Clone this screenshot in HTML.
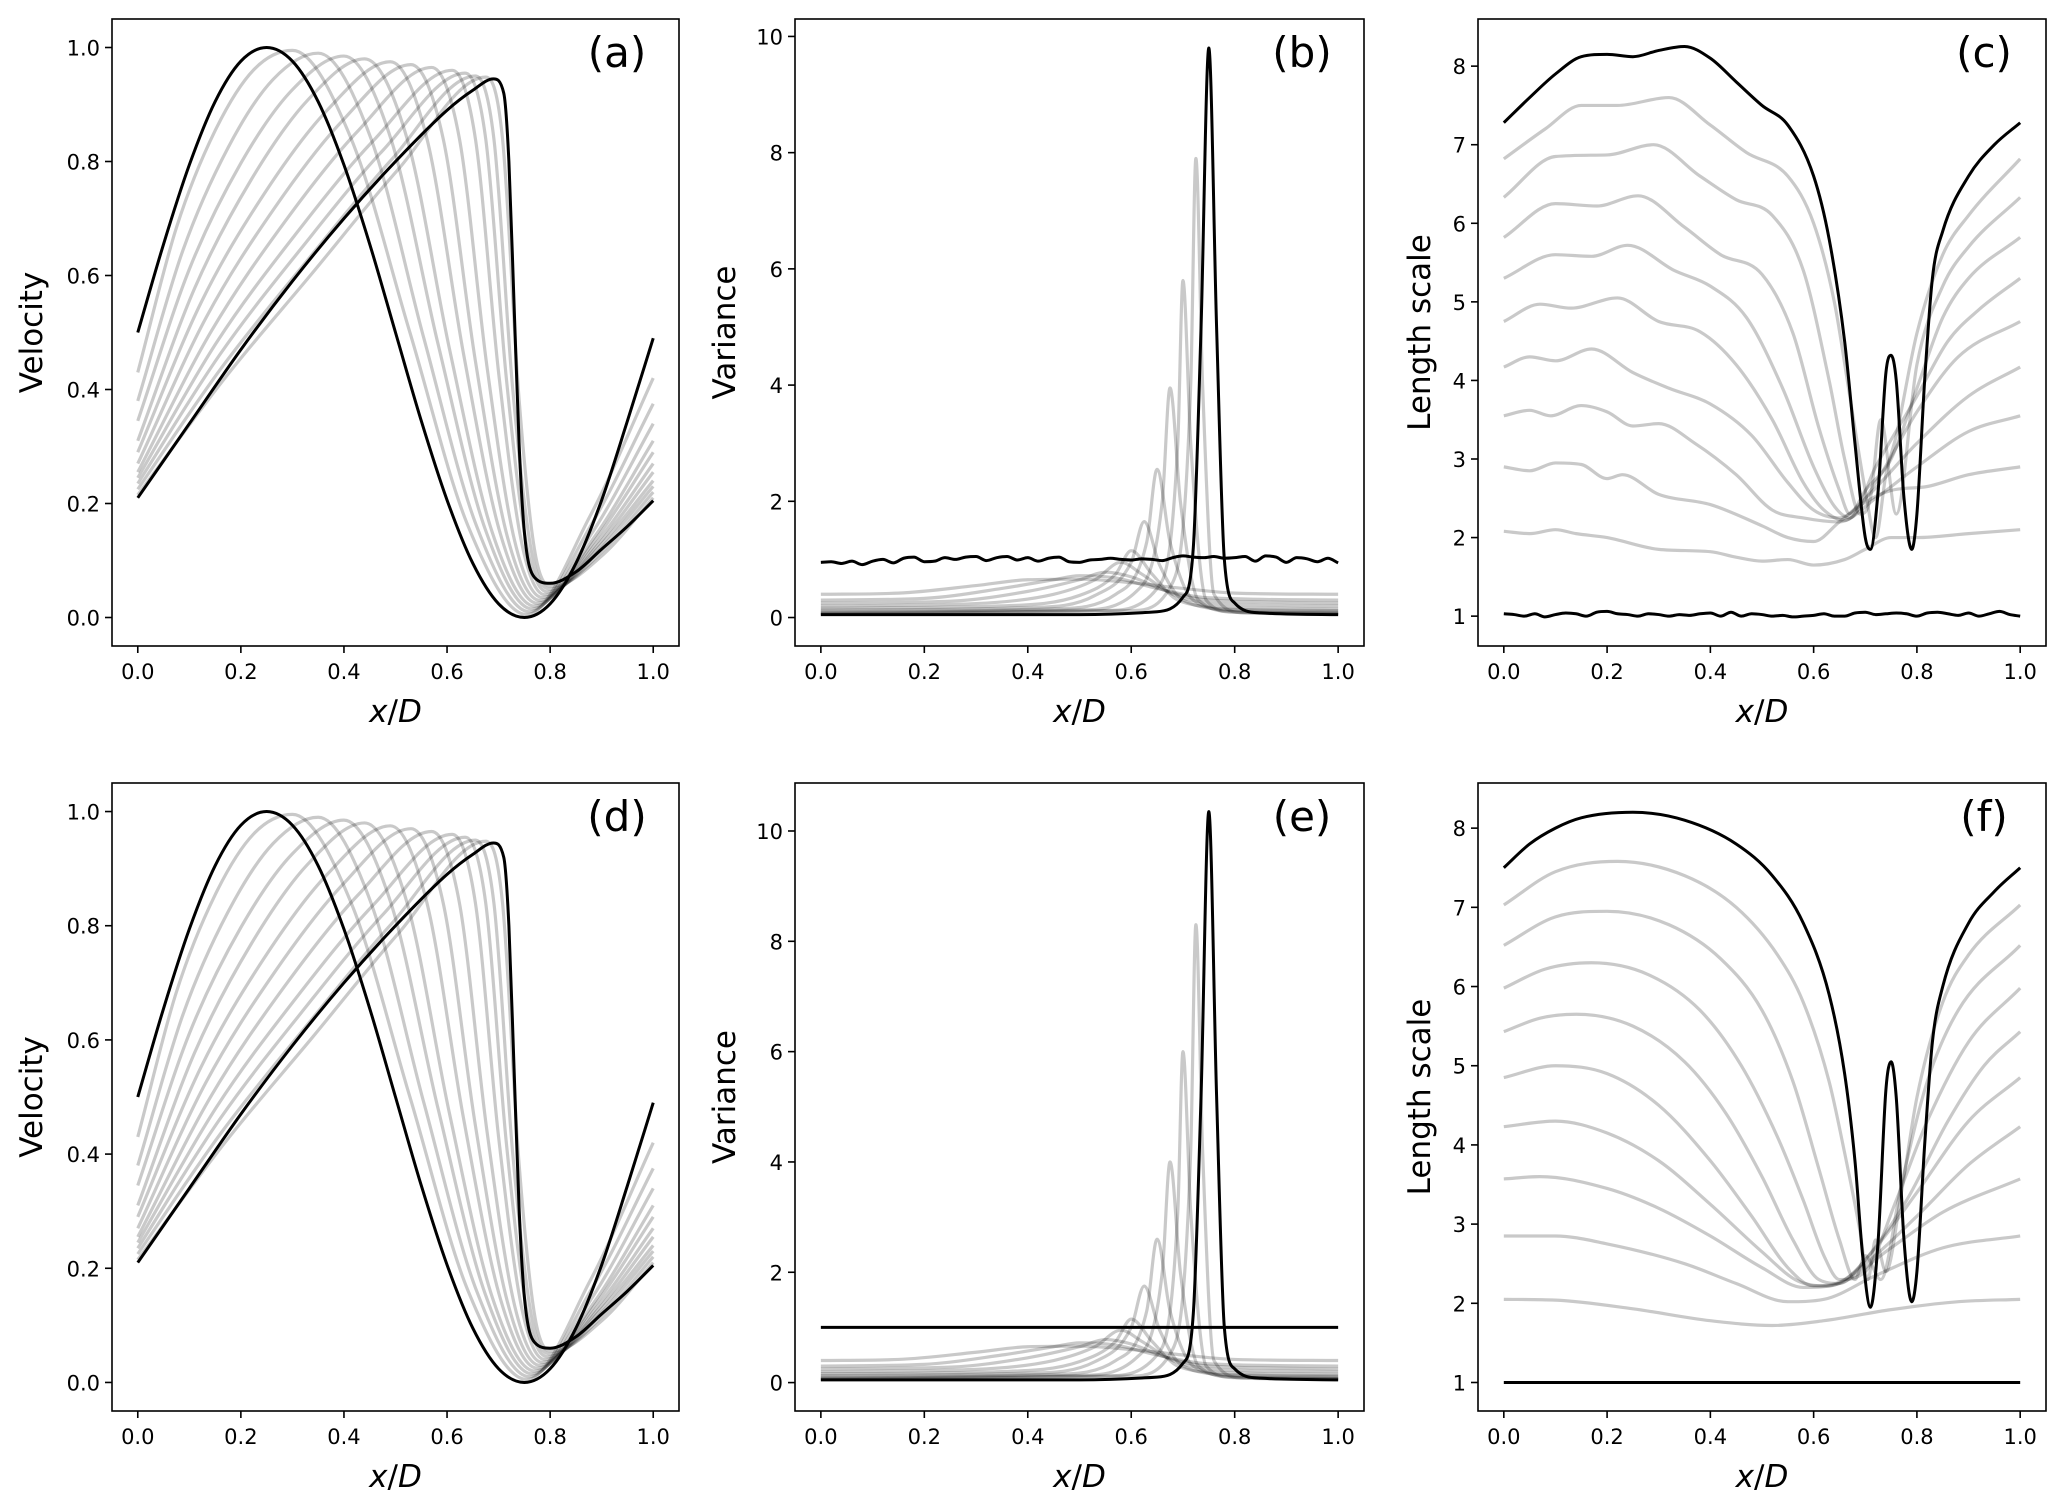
<!DOCTYPE html>
<html><head><meta charset="utf-8"><style>
html,body{margin:0;padding:0;background:#fff;}
svg{display:block;font-family:"DejaVu Sans","Liberation Sans",sans-serif;}
</style></head><body>
<svg id="fig" width="2067" height="1506" viewBox="0 0 2067 1506" xmlns="http://www.w3.org/2000/svg"></svg>
<script>
// ---------- DATA ----------
const velInit=[[0,.5],[.05,.655],[.1,.794],[.15,.905],[.2,.976],[.25,1],[.3,.976],[.35,.905],[.4,.794],[.45,.655],[.5,.5],[.55,.345],[.6,.206],[.65,.095],[.7,.024],[.75,0],[.8,.024],[.85,.095],[.9,.206],[.95,.345],[1,.49]];
const velFinal=[[0,.21],[.1,.34],[.2,.47],[.3,.59],[.4,.70],[.5,.80],[.6,.89],[.65,.925],[.69,.945],[.71,.92],[.72,.80],[.73,.55],[.74,.30],[.75,.15],[.77,.07],[.8,.06],[.85,.08],[.9,.12],[.95,.16],[1,.205]];
const velGray=[
[[0,.43],[.075,.684],[.15,.854],[.225,.961],[.30,.995],[.414,.84],[.528,.5],[.641,.16],[.755,.005],[.878,.179],[1,.42]],
[[0,.38],[.0875,.644],[.175,.824],[.2625,.944],[.35,.99],[.4525,.84],[.555,.49],[.6575,.16],[.76,.01],[.88,.163],[1,.375]],
[[0,.345],[.1,.611],[.2,.797],[.3,.926],[.40,.985],[.491,.84],[.5825,.48],[.674,.155],[.765,.015],[.8825,.15],[1,.34]],
[[0,.31],[.11,.577],[.22,.768],[.33,.908],[.44,.98],[.5225,.84],[.605,.47],[.6875,.15],[.77,.02],[.885,.14],[1,.31]],
[[0,.29],[.1225,.552],[.245,.743],[.3675,.89],[.49,.975],[.561,.84],[.6325,.46],[.704,.145],[.775,.025],[.8875,.136],[1,.29]],
[[0,.27],[.1325,.526],[.265,.718],[.3975,.872],[.53,.97],[.5925,.84],[.655,.45],[.7175,.14],[.78,.03],[.89,.131],[1,.27]],
[[0,.255],[.1425,.502],[.285,.694],[.4275,.854],[.57,.965],[.624,.84],[.6775,.44],[.731,.135],[.785,.035],[.8925,.127],[1,.255]],
[[0,.245],[.1525,.482],[.305,.671],[.4575,.837],[.61,.96],[.655,.84],[.70,.43],[.745,.13],[.79,.04],[.895,.124],[1,.24]],
[[0,.235],[.159,.461],[.3175,.648],[.476,.82],[.635,.955],[.675,.84],[.715,.42],[.755,.125],[.795,.045],[.8975,.12],[1,.23]],
[[0,.225],[.164,.44],[.3275,.625],[.491,.802],[.655,.95],[.691,.839],[.7275,.40],[.764,.115],[.80,.05],[.90,.115],[1,.22]],
[[0,.215],[.169,.42],[.3375,.603],[.506,.787],[.675,.948],[.7075,.841],[.74,.38],[.7725,.105],[.805,.055],[.9025,.11],[1,.21]]
];
const varInitB=[0.95,0.96,0.93,0.97,0.91,0.97,1.0,0.94,1.02,1.04,0.96,0.97,1.03,1.0,1.04,1.05,0.98,1.03,1.05,0.99,1.03,0.97,1.02,1.04,0.96,0.95,0.99,1.0,1.02,1.0,0.99,1.01,1.0,0.98,1.03,1.06,1.04,1.03,1.05,1.02,1.03,1.05,0.97,1.06,1.04,0.95,1.03,1.01,0.96,1.02,0.94];
const varFinalB=[[0,.05],[.5,.05],[.65,.1],[.7,.35],[.72,1.2],[.735,5],[.75,9.8],[.765,5],[.78,1.0],[.80,.25],[.85,.08],[1,.05]];
const varGrayB=[
[[0,.40],[.15,.42],[.3,.55],[.4,.65],[.5,.66],[.6,.6],[.7,.5],[.8,.42],[1,.40]],
[[0,.30],[.2,.33],[.35,.5],[.45,.65],[.5,.72],[.57,.68],[.65,.5],[.75,.34],[1,.30]],
[[0,.25],[.25,.28],[.4,.45],[.5,.65],[.55,.78],[.6,.7],[.67,.45],[.75,.3],[1,.25]],
[[0,.2],[.3,.24],[.45,.4],[.53,.65],[.58,.95],[.62,.75],[.68,.4],[.76,.24],[1,.2]],
[[0,.16],[.35,.2],[.5,.38],[.57,.75],[.60,1.15],[.64,.75],[.69,.3],[.78,.18],[1,.15]],
[[0,.13],[.4,.17],[.53,.38],[.6,.95],[.625,1.65],[.655,.9],[.7,.3],[.8,.14],[1,.12]],
[[0,.10],[.45,.15],[.57,.4],[.63,1.3],[.65,2.55],[.675,1.3],[.72,.3],[.8,.12],[1,.1]],
[[0,.08],[.5,.13],[.61,.45],[.66,2.0],[.675,3.95],[.695,2.0],[.73,.3],[.8,.1],[1,.08]],
[[0,.07],[.55,.12],[.65,.5],[.69,3.0],[.70,5.8],[.715,3.0],[.745,.3],[.8,.09],[1,.07]],
[[0,.06],[.6,.12],[.68,.6],[.715,4.0],[.725,7.9],[.738,4.0],[.76,.4],[.82,.08],[1,.06]]
];
const varInitE=[[0,1],[1,1]];
const varFinalE=[[0,.05],[.5,.05],[.65,.1],[.7,.35],[.72,1.25],[.735,5.2],[.75,10.35],[.765,5.2],[.78,1.0],[.80,.25],[.85,.08],[1,.05]];
const varGrayE=[
[[0,.40],[.15,.42],[.3,.55],[.4,.65],[.5,.66],[.6,.6],[.7,.5],[.8,.42],[1,.40]],
[[0,.30],[.2,.33],[.35,.5],[.45,.65],[.5,.72],[.57,.68],[.65,.5],[.75,.34],[1,.30]],
[[0,.25],[.25,.28],[.4,.45],[.5,.65],[.55,.78],[.6,.7],[.67,.45],[.75,.3],[1,.25]],
[[0,.2],[.3,.24],[.45,.4],[.53,.65],[.58,.95],[.62,.75],[.68,.4],[.76,.24],[1,.2]],
[[0,.16],[.35,.2],[.5,.38],[.57,.75],[.60,1.15],[.64,.75],[.69,.3],[.78,.18],[1,.15]],
[[0,.13],[.4,.17],[.53,.38],[.6,1.0],[.625,1.75],[.655,.95],[.7,.3],[.8,.14],[1,.12]],
[[0,.10],[.45,.15],[.57,.4],[.63,1.3],[.65,2.6],[.675,1.3],[.72,.3],[.8,.12],[1,.1]],
[[0,.08],[.5,.13],[.61,.45],[.66,2.0],[.675,4.0],[.695,2.0],[.73,.3],[.8,.1],[1,.08]],
[[0,.07],[.55,.12],[.65,.5],[.69,3.1],[.70,6.0],[.715,3.1],[.745,.3],[.8,.09],[1,.07]],
[[0,.06],[.6,.12],[.68,.6],[.715,4.2],[.725,8.3],[.738,4.2],[.76,.4],[.82,.08],[1,.06]]
];
const lenInitC=[1.03,1.02,1.0,1.03,0.99,1.02,1.04,1.03,1.0,1.05,1.06,1.03,1.02,1.0,1.03,1.02,1.0,1.02,1.01,1.03,1.04,1.0,1.05,1.0,1.03,1.02,1.0,1.01,0.99,1.0,1.01,1.03,1.0,1.0,1.04,1.05,1.02,1.03,1.04,1.03,1.0,1.04,1.05,1.03,1.01,1.04,1.0,1.03,1.06,1.02,1.0];
const lenFinalC=[[0,7.28],[.05,7.6],[.1,7.9],[.15,8.12],[.2,8.15],[.25,8.12],[.3,8.2],[.35,8.25],[.4,8.1],[.45,7.8],[.5,7.5],[.55,7.25],[.6,6.6],[.63,5.8],[.66,4.5],[.68,3.2],[.70,2.0],[.71,1.85],[.725,2.6],[.74,4.1],[.75,4.32],[.76,4.0],[.775,2.5],[.79,1.85],[.80,2.3],[.815,4.0],[.83,5.3],[.85,5.9],[.9,6.6],[.95,7.0],[1,7.28]];
const lenGrayC=[
[[0,6.82],[.08,7.2],[.15,7.5],[.22,7.5],[.32,7.6],[.4,7.25],[.47,6.9],[.55,6.6],[.6,6.0],[.64,5.0],[.67,3.8],[.7,2.6],[.72,2.0],[.74,2.8],[.76,3.3],[.8,4.6],[.85,5.6],[.9,6.1],[1,6.82]],
[[0,6.33],[.1,6.85],[.2,6.87],[.29,7.0],[.38,6.6],[.45,6.3],[.52,6.1],[.58,5.4],[.63,4.0],[.66,3.0],[.69,2.3],[.71,2.5],[.73,3.5],[.76,2.3],[.8,4.2],[.85,5.2],[.9,5.7],[1,6.33]],
[[0,5.82],[.1,6.25],[.18,6.22],[.26,6.35],[.35,5.95],[.42,5.6],[.5,5.35],[.56,4.6],[.61,3.4],[.65,2.6],[.67,2.3],[.7,2.6],[.75,3.0],[.8,3.9],[.85,4.8],[.9,5.3],[1,5.82]],
[[0,5.3],[.1,5.6],[.17,5.58],[.24,5.72],[.33,5.4],[.4,5.2],[.47,4.8],[.54,3.9],[.6,2.9],[.64,2.4],[.67,2.25],[.72,2.9],[.8,3.8],[.86,4.5],[.92,4.9],[1,5.3]],
[[0,4.75],[.07,4.97],[.13,4.92],[.22,5.05],[.3,4.75],[.38,4.62],[.45,4.2],[.52,3.5],[.58,2.7],[.62,2.35],[.66,2.22],[.72,2.7],[.8,3.6],[.88,4.3],[1,4.75]],
[[0,4.17],[.05,4.3],[.1,4.25],[.17,4.4],[.25,4.1],[.32,3.9],[.4,3.7],[.48,3.3],[.55,2.7],[.6,2.35],[.65,2.25],[.7,2.5],[.8,3.2],[.9,3.8],[1,4.17]],
[[0,3.55],[.05,3.62],[.09,3.55],[.15,3.68],[.2,3.6],[.25,3.42],[.3,3.45],[.37,3.2],[.45,2.8],[.52,2.35],[.58,2.25],[.65,2.2],[.72,2.5],[.8,2.9],[.9,3.35],[1,3.55]],
[[0,2.9],[.05,2.85],[.1,2.95],[.15,2.93],[.2,2.75],[.23,2.8],[.3,2.55],[.4,2.42],[.5,2.15],[.55,2.0],[.6,1.95],[.65,2.2],[.7,2.45],[.75,2.6],[.82,2.65],[.9,2.8],[1,2.9]],
[[0,2.08],[.05,2.05],[.1,2.1],[.14,2.05],[.2,2.0],[.3,1.85],[.4,1.82],[.45,1.75],[.5,1.7],[.55,1.72],[.6,1.65],[.66,1.72],[.7,1.85],[.75,2.0],[.8,2.0],[.9,2.05],[1,2.1]]
];
const lenInitF=[[0,1],[1,1]];
const lenFinalF=[[0,7.5],[.05,7.8],[.1,8.0],[.15,8.13],[.25,8.2],[.35,8.1],[.45,7.8],[.52,7.4],[.58,6.8],[.63,5.9],[.66,4.9],[.68,3.8],[.695,2.6],[.71,1.95],[.725,2.8],[.74,4.7],[.75,5.05],[.76,4.6],[.775,2.8],[.79,2.02],[.80,2.4],[.815,4.0],[.83,5.3],[.85,6.0],[.9,6.8],[.95,7.2],[1,7.5]];
const lenGrayF=[
[[0,7.03],[.1,7.45],[.22,7.58],[.35,7.4],[.45,7.0],[.53,6.4],[.58,5.8],[.63,4.8],[.66,3.9],[.69,2.9],[.705,2.3],[.72,2.8],[.74,2.4],[.77,3.4],[.8,4.6],[.85,5.8],[.9,6.4],[1,7.03]],
[[0,6.52],[.1,6.88],[.2,6.95],[.32,6.78],[.42,6.35],[.5,5.7],[.56,4.8],[.61,3.7],[.65,2.8],[.68,2.3],[.7,2.6],[.73,2.3],[.77,3.5],[.82,4.8],[.88,5.7],[1,6.52]],
[[0,5.98],[.08,6.22],[.17,6.3],[.28,6.15],[.38,5.7],[.46,5.0],[.53,4.1],[.58,3.3],[.62,2.6],[.65,2.3],[.7,2.4],[.76,3.3],[.82,4.3],[.9,5.3],[1,5.98]],
[[0,5.43],[.07,5.6],[.14,5.65],[.25,5.5],[.35,5.05],[.43,4.4],[.5,3.6],[.56,2.8],[.61,2.3],[.65,2.25],[.7,2.55],[.78,3.3],[.86,4.3],[.93,5.0],[1,5.43]],
[[0,4.85],[.1,5.0],[.2,4.9],[.3,4.5],[.4,3.8],[.48,3.1],[.55,2.45],[.6,2.22],[.66,2.3],[.72,2.7],[.8,3.4],[.9,4.3],[1,4.85]],
[[0,4.23],[.1,4.3],[.2,4.15],[.3,3.8],[.4,3.25],[.5,2.65],[.57,2.28],[.63,2.22],[.7,2.5],[.8,3.1],[.9,3.75],[1,4.23]],
[[0,3.57],[.07,3.6],[.2,3.45],[.3,3.2],[.4,2.85],[.5,2.45],[.58,2.2],[.65,2.25],[.75,2.7],[.85,3.15],[1,3.57]],
[[0,2.85],[.1,2.85],[.2,2.75],[.35,2.5],[.45,2.25],[.55,2.02],[.62,2.05],[.72,2.35],[.85,2.7],[1,2.85]],
[[0,2.05],[.1,2.04],[.25,1.93],[.4,1.78],[.52,1.72],[.62,1.78],[.75,1.92],[.88,2.02],[1,2.05]]
];
const xTicks=[0,0.2,0.4,0.6,0.8,1.0];
const xTickLabels=["0.0","0.2","0.4","0.6","0.8","1.0"];
const velTicks=[0,0.2,0.4,0.6,0.8,1.0];
const velTickLabels=["0.0","0.2","0.4","0.6","0.8","1.0"];
const varTicks=[0,2,4,6,8,10];
const varTickLabels=["0","2","4","6","8","10"];
const lenTicks=[1,2,3,4,5,6,7,8];
const lenTickLabels=["1","2","3","4","5","6","7","8"];

// ---------- DRAW ----------
const NS="http://www.w3.org/2000/svg";
const svg=document.getElementById('fig');
function mk(tag,attrs,parent){const e=document.createElementNS(NS,tag);for(const k in attrs)e.setAttribute(k,attrs[k]);(parent||svg).appendChild(e);return e;}
function gridPts(vals){return vals.map((v,i)=>[i/(vals.length-1),v]);}
function monoPath(pts,sx,sy){
  const n=pts.length;const X=pts.map(p=>sx(p[0])),Y=pts.map(p=>sy(p[1]));
  if(n<3){return 'M'+X[0]+','+Y[0]+' L'+X[1]+','+Y[1];}
  const d=[],m=new Array(n);
  for(let i=0;i<n-1;i++)d.push((Y[i+1]-Y[i])/(X[i+1]-X[i]));
  m[0]=d[0];m[n-1]=d[n-2];
  for(let i=1;i<n-1;i++){m[i]=(d[i-1]*d[i]<=0)?0:(d[i-1]+d[i])/2;}
  for(let i=0;i<n-1;i++){if(d[i]===0){m[i]=0;m[i+1]=0;continue;}const a=m[i]/d[i],b=m[i+1]/d[i],s=a*a+b*b;if(s>9){const t=3/Math.sqrt(s);m[i]=t*a*d[i];m[i+1]=t*b*d[i];}}
  let p='M'+X[0].toFixed(2)+','+Y[0].toFixed(2);
  for(let i=0;i<n-1;i++){const h=(X[i+1]-X[i])/3;p+=' C'+(X[i]+h).toFixed(2)+','+(Y[i]+m[i]*h).toFixed(2)+' '+(X[i+1]-h).toFixed(2)+','+(Y[i+1]-m[i+1]*h).toFixed(2)+' '+X[i+1].toFixed(2)+','+Y[i+1].toFixed(2);}
  return p;
}
function panel(o){
  const g=mk('g',{});
  
  
  const L=o.L,R=o.R,T=o.T,B=o.B;
  const sx=v=>L+(v+0.05)/1.1*(R-L);
  const sy=v=>B-(v-o.ymin)/(o.ymax-o.ymin)*(B-T);
  const clipId='clip-'+o.id;
  const cp=mk('clipPath',{id:clipId},g);mk('rect',{x:L,y:T,width:R-L,height:B-T},cp);
  const lines=mk('g',{'clip-path':'url(#'+clipId+')'},g);
  
  
  o.gray.forEach((pts,i)=>{
    const p=mk('path',{d:monoPath(pts,sx,sy),fill:'none',stroke:'#000','stroke-opacity':'0.21','stroke-width':3.2,'stroke-linejoin':'round'},lines);
    
    
  });
  [o.init,o.fin].forEach((pts,i)=>{
    const p=mk('path',{d:monoPath(pts,sx,sy),fill:'none',stroke:'#000','stroke-width':3,'stroke-linejoin':'round'},lines);
    
    
  });
  const frame=mk('rect',{x:L,y:T,width:R-L,height:B-T,fill:'none',stroke:'#000','stroke-width':1.6},g);
  
  
  xTicks.forEach((v,i)=>{
    const x=sx(v);
    mk('line',{x1:x,x2:x,y1:B,y2:B+7,stroke:'#000','stroke-width':1.6},g);
    const t=mk('text',{x:x,y:B+33,'font-size':21,'text-anchor':'middle',fill:'#000'},g);
    t.textContent=xTickLabels[i];
    
    
  });
  o.yt.forEach((v,i)=>{
    const y=sy(v);
    mk('line',{x1:L-7,x2:L,y1:y,y2:y,stroke:'#000','stroke-width':1.6},g);
    const t=mk('text',{x:L-12,y:y+8,'font-size':21,'text-anchor':'end',fill:'#000'},g);
    t.textContent=o.ytl[i];
    
    
  });
  const xl=mk('text',{x:(L+R)/2,y:B+76,'font-size':31,'text-anchor':'middle',fill:'#000'},g);
  xl.innerHTML='<tspan font-style="italic">x</tspan>/<tspan font-style="italic">D</tspan>';
  
  
  const yl=mk('text',{x:0,y:0,'font-size':31,'text-anchor':'middle',fill:'#000',transform:'translate('+(o.ylx)+','+((T+B)/2)+') rotate(-90)'},g);
  yl.textContent=o.ylabel;
  
  
  const pl=mk('text',{x:R-62,y:T+48,'font-size':42,'text-anchor':'middle',fill:'#000'},g);
  pl.textContent='('+o.id+')';
  
  
}
const rowTop=[19,783],rowBot=[646,1411];
const colL=[112,795,1478],colR=[679,1364,2046];
panel({id:'a',L:colL[0],R:colR[0],T:rowTop[0],B:rowBot[0],ymin:-0.05,ymax:1.05,yt:velTicks,ytl:velTickLabels,ylabel:'Velocity',ylx:42,gray:velGray,init:velInit,fin:velFinal});
panel({id:'b',L:colL[1],R:colR[1],T:rowTop[0],B:rowBot[0],ymin:-0.49,ymax:10.3,yt:varTicks,ytl:varTickLabels,ylabel:'Variance',ylx:735,gray:varGrayB,init:gridPts(varInitB),fin:varFinalB});
panel({id:'c',L:colL[2],R:colR[2],T:rowTop[0],B:rowBot[0],ymin:0.62,ymax:8.6,yt:lenTicks,ytl:lenTickLabels,ylabel:'Length scale',ylx:1430,gray:lenGrayC,init:gridPts(lenInitC),fin:lenFinalC});
panel({id:'d',L:colL[0],R:colR[0],T:rowTop[1],B:rowBot[1],ymin:-0.05,ymax:1.05,yt:velTicks,ytl:velTickLabels,ylabel:'Velocity',ylx:42,gray:velGray,init:velInit,fin:velFinal});
panel({id:'e',L:colL[1],R:colR[1],T:rowTop[1],B:rowBot[1],ymin:-0.515,ymax:10.87,yt:varTicks,ytl:varTickLabels,ylabel:'Variance',ylx:735,gray:varGrayE,init:varInitE,fin:varFinalE});
panel({id:'f',L:colL[2],R:colR[2],T:rowTop[1],B:rowBot[1],ymin:0.64,ymax:8.57,yt:lenTicks,ytl:lenTickLabels,ylabel:'Length scale',ylx:1430,gray:lenGrayF,init:lenInitF,fin:lenFinalF});
</script>
</body></html>
